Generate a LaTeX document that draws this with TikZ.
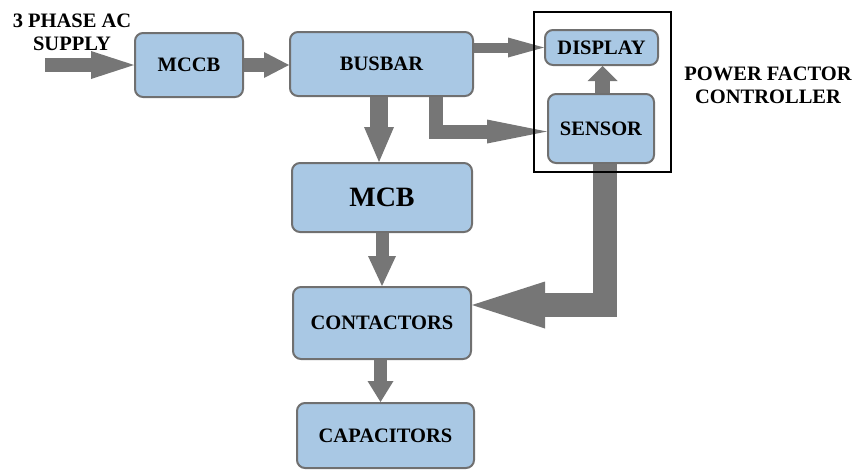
\documentclass[tikz,border=0pt]{standalone}
\usepackage{fontspec}
\setmainfont{Liberation Serif}
\usetikzlibrary{arrows.meta,calc}
\definecolor{boxfill}{RGB}{169,200,228}
\definecolor{boxline}{RGB}{112,112,112}
\definecolor{arrowgray}{RGB}{118,118,118}
\begin{document}
\begin{tikzpicture}[x=1pt,y=-1pt,
 blk/.style={draw=boxline, line width=2pt, fill=boxfill, rounded corners=8pt, inner sep=0pt, font=\fontsize{20.5}{22}\selectfont\bfseries},
 fat/.style args={#1/#2/#3}{draw=arrowgray, line width=#1, line join=miter, -{Triangle[length=#2,width=#3,line width=0pt]}},
 lbl/.style={align=center, font=\fontsize{20.5}{22.5}\selectfont\bfseries}]
\useasboundingbox (0,0) rectangle (858,475);

\node[blk, minimum width=108pt, minimum height=64pt] (mccb) at (189,65) {MCCB};
\node[blk, minimum width=183pt, minimum height=64pt] (busbar) at (381.5,64) {BUSBAR};
\node[blk, minimum width=113pt, minimum height=35pt] (display) at (601.5,47.5) {DISPLAY};
\node[blk, minimum width=106pt, minimum height=69pt] (sensor) at (601,128.5) {SENSOR};
\node[blk, minimum width=180pt, minimum height=69pt, font=\fontsize{28}{30}\selectfont\bfseries] (mcb) at (382,197.5) {MCB};
\node[blk, minimum width=178pt, minimum height=72pt] (contactors) at (382,323) {CONTACTORS};
\node[blk, minimum width=177pt, minimum height=65pt] (capacitors) at (385.5,435.5) {CAPACITORS};

\coordinate (src) at (45,65);
\draw[fat=14pt/43pt/28pt] (src) -- (mccb.west);
\draw[fat=14pt/25pt/26pt] (mccb.east) -- (mccb.east -| busbar.west);
\draw[fat=10pt/36pt/20pt] (busbar.east |- display.west) -- (display.west);
\draw[fat=18pt/35pt/30pt] ([xshift=-2.5pt]busbar.south) -- ([xshift=-2.5pt]busbar.south |- mcb.north);
\draw[fat=14pt/60pt/24pt] ([xshift=54pt]busbar.south) |- ([yshift=-3pt]sensor.west);
\draw[fat=15pt/15pt/30pt] ([xshift=1.5pt]sensor.north) -- ([xshift=1.5pt]sensor.north |- display.south);
\draw[fat=24pt/73pt/47pt] ([xshift=4pt]sensor.south) |- ([yshift=18pt]contactors.east);
\draw[fat=13pt/30pt/28pt] (mcb.south) -- (mcb.south |- contactors.north);
\draw[fat=13pt/21pt/26pt] ([xshift=-1.5pt]contactors.south) -- ([xshift=-1.5pt]contactors.south |- capacitors.north);

\node[draw=black, line width=2pt, minimum width=137pt, minimum height=160pt, inner sep=0pt] (pfc) at (602.5,92) {};

\node[lbl] (supply) at (72,32.5) {3 PHASE AC\\SUPPLY};
\node[lbl] (pfclabel) at (768,85.5) {POWER FACTOR\\CONTROLLER};
\end{tikzpicture}
\end{document}
